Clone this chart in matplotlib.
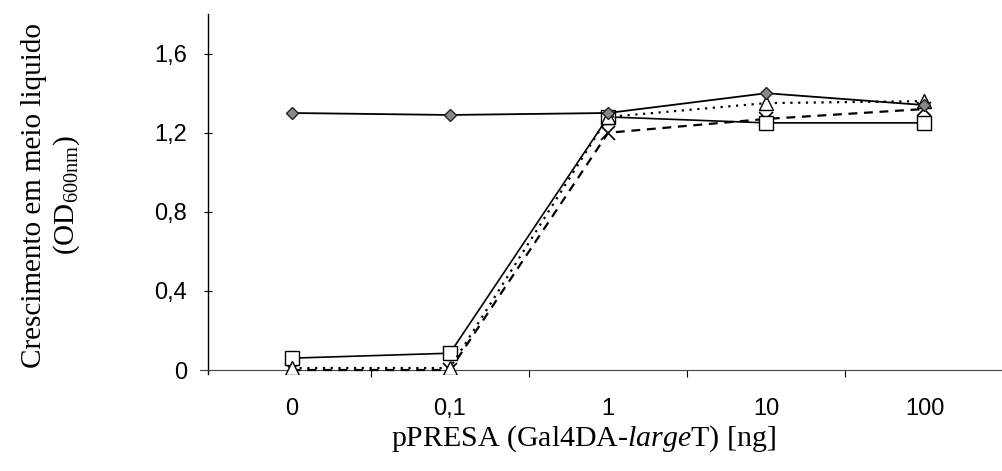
import matplotlib
matplotlib.use('Agg')
import matplotlib.pyplot as plt

# doses de pPRESA (eixo categórico)
doses = ['0', '0,1', '1', '10', '100']
# crescimento OD600 por série
od_diamante = [1.30, 1.29, 1.30, 1.40, 1.34]
od_quadrado = [0.06, 0.085, 1.28, 1.25, 1.25]
od_triangulo = [0.01, 0.01, 1.28, 1.35, 1.36]
od_x = [0.0, 0.0, 1.20, 1.27, 1.32]
yticks = [0, 0.4, 0.8, 1.2, 1.6]
ytick_labels = ['0', '0,4', '0,8', '1,2', '1,6']

plt.rcParams['mathtext.fontset'] = 'custom'
plt.rcParams['mathtext.rm'] = 'Liberation Serif'
plt.rcParams['mathtext.it'] = 'Liberation Serif:italic'

fig = plt.figure(figsize=(10.02, 4.71), dpi=100)
ax = fig.add_axes([0.1996, 0.206, 0.8004, 0.764])

x = range(len(doses))
ax.plot(x, od_x, color='black', linestyle=(0, (4, 3)), linewidth=1.6,
        marker='x', markersize=10, markeredgewidth=1.2, zorder=3)
ax.plot(x, od_triangulo, color='black', linestyle=(0, (1, 2.5)), linewidth=1.6,
        marker='^', markersize=10, markerfacecolor='white', markeredgewidth=1.0, zorder=4)
ax.plot(x, od_quadrado, color='black', linestyle='-', linewidth=1.2,
        marker='s', markersize=10, markerfacecolor='white', markeredgewidth=1.0, zorder=3)
ax.plot(x, od_diamante, color='black', linestyle='-', linewidth=1.3,
        marker='D', markersize=6.5, markerfacecolor='#888888', markeredgecolor='#222222',
        markeredgewidth=1.0, zorder=5)

ax.set_xlim(-0.58, 4.49)
ax.set_ylim(-0.02, 1.8)

for s in ['top', 'right']:
    ax.spines[s].set_visible(False)
ax.spines['left'].set_position(('data', -0.53))
ax.spines['bottom'].set_position(('data', 0))
ax.spines['left'].set_linewidth(1.0)
ax.spines['bottom'].set_linewidth(0.8)
ax.spines['bottom'].set_color('#444444')

ax.set_yticks(yticks)
ax.set_yticklabels(ytick_labels, fontsize=17, family='Liberation Sans')
ax.tick_params(axis='y', direction='inout', length=6, width=0.8, pad=12)

ax.set_xticks(list(x))
ax.set_xticklabels(doses, fontsize=17, family='Liberation Sans')
ax.tick_params(axis='x', which='major', length=0, pad=20)
ax.set_xticks([0.5, 1.5, 2.5, 3.5], minor=True)
ax.tick_params(axis='x', which='minor', direction='out', length=5, width=0.8)

fig.text(0.582, 0.068, 'pPRESA (Gal4DA-$\\mathit{large}$T) [ng]', fontsize=21.5,
         family='Liberation Serif', ha='center', va='center')
fig.text(0.034, 0.585, 'Crescimento em meio liquido', rotation=90,
         fontsize=21, family='Liberation Serif', ha='center', va='center')
fig.text(0.067, 0.585, '(OD$_{\\mathrm{600nm}}$)', rotation=90,
         fontsize=21, family='Liberation Serif', ha='center', va='center')

fig.savefig('out.png', dpi=100)
